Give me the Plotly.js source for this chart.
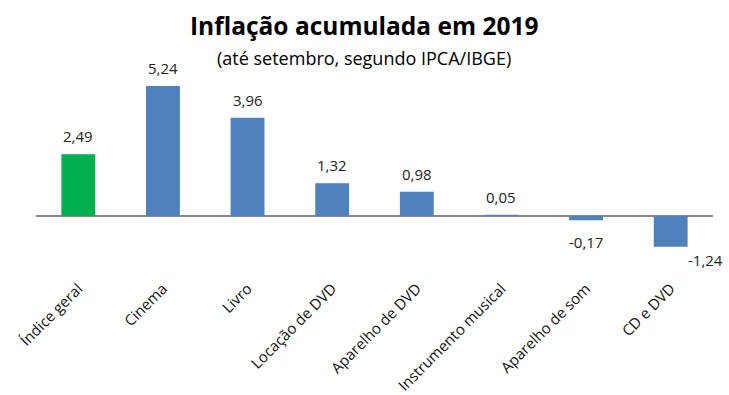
<!DOCTYPE html>
<html>
<head>
<meta charset="utf-8">
<script src="https://cdn.plot.ly/plotly-3.0.1.min.js"></script>
<style>html,body{margin:0;padding:0;background:#fff;}#chart{width:729px;height:395px;}</style>
</head>
<body>
<div id="chart"></div>
<script>
const categories = ["Índice geral", "Cinema", "Livro", "Locação de DVD", "Aparelho de DVD", "Instrumento musical", "Aparelho de som", "CD e DVD"];
const values = [2.49, 5.24, 3.96, 1.32, 0.98, 0.05, -0.17, -1.24];
const titleText = "Inflação acumulada em 2019";
const subtitleText = "(até setembro, segundo IPCA/IBGE)";

const BLUE = "#4F81BD", GREEN = "#00B050";
const FONT = "Open Sans, Liberation Sans, sans-serif";
const colors = categories.map((c, i) => i === 0 ? GREEN : BLUE);
const fmt = v => v.toFixed(2).replace(".", ",");

const annotations = values.map((v, i) => {
  const last = i === values.length - 1;
  return {
    x: categories[i], y: v, xref: "x", yref: "y",
    text: fmt(v), showarrow: false,
    font: {family: FONT, size: 15, color: "#222"},
    xanchor: "center",
    yanchor: v >= 0 ? "bottom" : "top",
    yshift: v >= 0 ? 6 : (last ? -1 : -10),
    xshift: last ? 35 : 0
  };
});
annotations.push({
  xref: "paper", yref: "paper", x: 0.485, y: 1, yanchor: "bottom", yshift: 16,
  text: "<b>" + titleText + "</b>", showarrow: false,
  font: {family: FONT, size: 24.5, color: "#000"}
});
annotations.push({
  xref: "paper", yref: "paper", x: 0.485, y: 1, yanchor: "bottom", yshift: -12,
  text: subtitleText, showarrow: false,
  font: {family: FONT, size: 18, color: "#000"}
});

const layout = {
  width: 729, height: 395,
  margin: {l: 36, r: 16, t: 60, b: 119},
  paper_bgcolor: "#fff", plot_bgcolor: "#fff",
  showlegend: false,
  bargap: 0.6,
  xaxis: {
    type: "category", range: [-0.5, categories.length - 0.5],
    tickangle: -45, showline: false, showgrid: false, automargin: false,
    ticks: "", tickfont: {family: FONT, size: 15, color: "#111"}, fixedrange: true
  },
  yaxis: {
    range: [-2.418, 6.288], showgrid: false, showticklabels: false, ticks: "", automargin: false,
    zeroline: true, zerolinecolor: "#888888", zerolinewidth: 1.5, showline: false
  },
  annotations: annotations
};

Plotly.newPlot("chart", [{
  type: "bar", x: categories, y: values,
  marker: {color: colors},
  hoverinfo: "skip"
}], layout, {displayModeBar: false, staticPlot: true});
</script>
</body>
</html>
